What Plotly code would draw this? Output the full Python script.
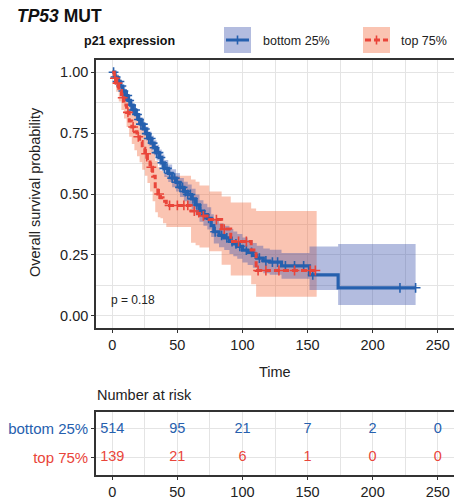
import plotly.graph_objects as go

# ---------------- data ----------------
groups = ["bottom 25%", "top 75%"]

blue_time = [0, 2, 4, 6, 8, 10, 12, 14, 16, 18, 20, 22, 24, 26, 28, 30, 32, 34, 36, 38, 40,
             43, 46, 49, 52, 55, 58, 61, 64, 67, 70, 73, 76, 78, 82, 86, 90, 93, 96, 100,
             104, 108, 111, 116, 121, 130, 151.5, 173.5, 233]
blue_surv = [1.0, .980, .962, .943, .923, .904, .884, .865, .845, .826, .806, .787, .767, .748,
             .728, .709, .690, .670, .650, .628, .605, .585, .565, .548, .527, .510, .498, .480,
             .455, .430, .415, .400, .370, .345, .330, .320, .305, .295, .285, .270, .260, .248,
             .237, .225, .220, .205, .168, .115, .115]
blue_lower = [1.0, .968, .947, .926, .905, .884, .863, .843, .822, .802, .781, .761, .740, .720,
              .699, .679, .659, .638, .617, .594, .570, .549, .528, .510, .488, .470, .457, .438,
              .412, .386, .370, .354, .323, .297, .281, .270, .254, .244, .234, .219, .209, .197,
              .186, .175, .169, .152, .106, .044, .044]
blue_upper = [1.0, .992, .977, .960, .941, .924, .905, .887, .868, .850, .831, .813, .794, .776,
              .757, .739, .721, .702, .683, .662, .640, .621, .602, .586, .566, .550, .539, .522,
              .498, .474, .460, .446, .417, .393, .379, .370, .356, .346, .336, .321, .311, .299,
              .288, .276, .271, .258, .285, .295, .295]
blue_censor = [1, 2.5, 4, 5.5, 7, 8.5, 10, 11.5, 13, 14.5, 16, 17.5, 19, 20.5, 22, 23.5, 25, 26.5,
               28, 29.5, 31, 32.5, 34, 35.5, 37, 38.5, 40, 42, 44, 46, 48, 50, 52, 54, 56, 58, 60,
               62, 65, 68, 71, 74, 79, 84, 88, 92, 95, 98, 103, 107, 113, 118, 123, 127, 133, 140,
               147, 154, 221, 233]

red_time = [0, 1.5, 3, 5, 7, 9, 11, 13, 15, 17, 19, 21, 23, 25, 27, 29, 31, 33, 35, 37, 39, 41.5,
            60.5, 64, 67, 74.5, 84, 91, 106.7, 110.5, 157]
red_surv = [1.0, .975, .955, .925, .895, .865, .835, .800, .775, .755, .735, .715, .688, .665,
            .640, .610, .573, .530, .500, .485, .470, .453, .430, .420, .410, .395, .356, .305,
            .270, .186, .186]
red_lower = [1.0, .950, .920, .880, .845, .810, .775, .735, .705, .680, .655, .630, .600, .575,
             .545, .510, .470, .425, .405, .400, .380, .365, .300, .290, .280, .265, .210, .165,
             .130, .078, .078]
red_upper = [1.0, 1.0, .990, .970, .945, .920, .895, .865, .845, .830, .815, .800, .775, .755,
             .735, .710, .675, .635, .610, .595, .585, .575, .560, .550, .535, .510, .490, .465,
             .440, .430, .430]
red_censor = [2, 4, 8, 12, 16, 20, 26, 30, 36, 44, 50, 55, 58, 63, 70, 80, 86, 97, 103, 112, 118,
              128, 140, 152, 156]

risk_times = [0, 50, 100, 150, 200, 250]
risk_bottom = [514, 95, 21, 7, 2, 0]
risk_top = [139, 21, 6, 1, 0, 0]

x_ticks = [0, 50, 100, 150, 200, 250]
y_ticks = [0.0, 0.25, 0.5, 0.75, 1.0]
y_ticklabels = ["0.00", "0.25", "0.50", "0.75", "1.00"]
p_text = "p = 0.18"

# ---------------- style ----------------
BLUE = "#2660ae"
RED = "#e9453a"
BLUE_FILL = "rgba(55,80,172,0.38)"
RED_FILL = "rgba(240,92,42,0.36)"
GRID = "#e4e4e4"
AX = "#333333"
FONT = "Liberation Sans, Arial, sans-serif"
W, H = 454, 502


def px(x):
    return x / W


def py(y):
    return 1 - y / H


def step_at(times, surv, t):
    val = surv[0]
    for tt, ss in zip(times, surv):
        if tt <= t:
            val = ss
    return val


fig = go.Figure()

# CI ribbons (red under blue)
fig.add_trace(go.Scatter(x=red_time, y=red_lower, mode="lines", line=dict(width=0, shape="hv"),
                         hoverinfo="skip", showlegend=False))
fig.add_trace(go.Scatter(x=red_time, y=red_upper, mode="lines", line=dict(width=0, shape="hv"),
                         fill="tonexty", fillcolor=RED_FILL, hoverinfo="skip", showlegend=False))
fig.add_trace(go.Scatter(x=blue_time, y=blue_lower, mode="lines", line=dict(width=0, shape="hv"),
                         hoverinfo="skip", showlegend=False))
fig.add_trace(go.Scatter(x=blue_time, y=blue_upper, mode="lines", line=dict(width=0, shape="hv"),
                         fill="tonexty", fillcolor=BLUE_FILL, hoverinfo="skip", showlegend=False))

# survival curves
fig.add_trace(go.Scatter(x=blue_time, y=blue_surv, mode="lines",
                         line=dict(color=BLUE, width=3.2, shape="hv"), showlegend=False))
fig.add_trace(go.Scatter(x=blue_censor, y=[step_at(blue_time, blue_surv, t) for t in blue_censor],
                         mode="markers", showlegend=False,
                         marker=dict(symbol="cross-thin", size=7, line=dict(color=BLUE, width=1.6))))
fig.add_trace(go.Scatter(x=red_time, y=red_surv, mode="lines",
                         line=dict(color=RED, width=3, shape="hv", dash="6px,3px"), showlegend=False))
fig.add_trace(go.Scatter(x=red_censor, y=[step_at(red_time, red_surv, t) for t in red_censor],
                         mode="markers", showlegend=False,
                         marker=dict(symbol="cross-thin", size=7, line=dict(color=RED, width=1.6))))

# risk table
fig.add_trace(go.Scatter(x=risk_times, y=[2] * len(risk_times), text=[str(v) for v in risk_bottom],
                         mode="text", textfont=dict(color=BLUE, size=14.5, family=FONT),
                         xaxis="x2", yaxis="y2", showlegend=False, hoverinfo="skip"))
fig.add_trace(go.Scatter(x=risk_times, y=[1] * len(risk_times), text=[str(v) for v in risk_top],
                         mode="text", textfont=dict(color=RED, size=14.5, family=FONT),
                         xaxis="x2", yaxis="y2", showlegend=False, hoverinfo="skip"))

common_x = dict(range=[-12.5, 262.5], tickvals=x_ticks, ticktext=[str(v) for v in x_ticks],
                showgrid=True, gridcolor=GRID, gridwidth=1,
                minor=dict(tickvals=[25, 75, 125, 175, 225], showgrid=True, gridcolor=GRID,
                           gridwidth=1, ticks=""),
                showline=True, linecolor=AX, linewidth=1.6, mirror=True,
                ticks="outside", ticklen=3, tickcolor=AX, tickwidth=1.2,
                tickfont=dict(size=14.5, color="#222", family=FONT),
                zeroline=False, automargin=False, fixedrange=True)

fig.update_layout(
    width=W, height=H, template="none",
    margin=dict(l=0, r=0, t=0, b=0),
    paper_bgcolor="white", plot_bgcolor="white",
    font=dict(family=FONT, color="#222"),
    showlegend=False,
    xaxis=dict(domain=[px(96), 1], anchor="y", **common_x),
    yaxis=dict(domain=[py(328), py(60)], anchor="x", range=[-0.05, 1.05],
               tickvals=y_ticks, ticktext=y_ticklabels,
               showgrid=True, gridcolor=GRID, gridwidth=1,
               minor=dict(tickvals=[0.125, 0.375, 0.625, 0.875], showgrid=True, gridcolor=GRID,
                          gridwidth=1, ticks=""),
               showline=True, linecolor=AX, linewidth=1.6, mirror=False,
               ticks="outside", ticklen=3, tickcolor=AX, tickwidth=1.2,
               tickfont=dict(size=14.5, color="#222", family=FONT),
               zeroline=False, automargin=False, fixedrange=True),
    xaxis2=dict(domain=[px(96), 1], anchor="y2", **common_x),
    yaxis2=dict(domain=[py(475), py(411.7)], anchor="x2", range=[0.4, 2.6],
                tickvals=[2, 1],
                ticktext=["<span style='color:%s'>%s</span>" % (BLUE, groups[0]),
                          "<span style='color:%s'>%s</span>" % (RED, groups[1])],
                showgrid=True, gridcolor=GRID, gridwidth=1,
                showline=True, linecolor=AX, linewidth=1.6, mirror=False,
                ticks="outside", ticklen=3, tickcolor=AX, tickwidth=1.2,
                tickfont=dict(size=15, family=FONT),
                zeroline=False, automargin=False, fixedrange=True),
)

annotations = [
    dict(text="<b><i>TP53</i> MUT</b>", x=px(15), y=py(16), xanchor="left", yanchor="middle",
         font=dict(size=17.5, color="#111", family=FONT)),
    dict(text="<b>p21 expression</b>", x=px(82), y=py(41), xanchor="left", yanchor="middle",
         font=dict(size=12.5, color="#111", family=FONT)),
    dict(text=groups[0], x=px(261), y=py(41), xanchor="left", yanchor="middle",
         font=dict(size=12.5, color="#222", family=FONT)),
    dict(text=groups[1], x=px(399), y=py(41), xanchor="left", yanchor="middle",
         font=dict(size=12.5, color="#222", family=FONT)),
    dict(text="Overall survival probability", x=px(35), y=py(192), textangle=-90,
         xanchor="center", yanchor="middle", font=dict(size=14.5, color="#222", family=FONT)),
    dict(text="Time", x=px(275), y=py(372), xanchor="center", yanchor="middle",
         font=dict(size=14.5, color="#222", family=FONT)),
    dict(text=p_text, x=px(109), y=py(300), xanchor="left", yanchor="middle",
         font=dict(size=12, color="#222", family=FONT)),
    dict(text="Number at risk", x=px(95), y=py(395), xanchor="left", yanchor="middle",
         font=dict(size=14.5, color="#222", family=FONT)),
]
for a in annotations:
    a.update(xref="paper", yref="paper", showarrow=False)
fig.update_layout(annotations=annotations)

# legend keys
shapes = []
for (x0, x1, fill, col, dash) in [(224, 251, BLUE_FILL, BLUE, "solid"),
                                  (363, 390, RED_FILL, RED, "6px,3px")]:
    shapes.append(dict(type="rect", xref="paper", yref="paper", x0=px(x0), x1=px(x1),
                       y0=py(53), y1=py(27), fillcolor=fill, line=dict(width=0), layer="above"))
    shapes.append(dict(type="line", xref="paper", yref="paper", x0=px(x0 + 2), x1=px(x1 - 2),
                       y0=py(40), y1=py(40), line=dict(color=col, width=3, dash=dash), layer="above"))
    cx = (x0 + x1) / 2
    shapes.append(dict(type="line", xref="paper", yref="paper", x0=px(cx), x1=px(cx),
                       y0=py(35.5), y1=py(44.5), line=dict(color=col, width=1.6), layer="above"))
fig.update_layout(shapes=shapes)

fig.write_html(
    "out.html",
    config={"displayModeBar": False},
    post_script="document.body.style.margin='0';document.body.style.overflow='hidden';"
                "document.documentElement.style.overflow='hidden';",
)
